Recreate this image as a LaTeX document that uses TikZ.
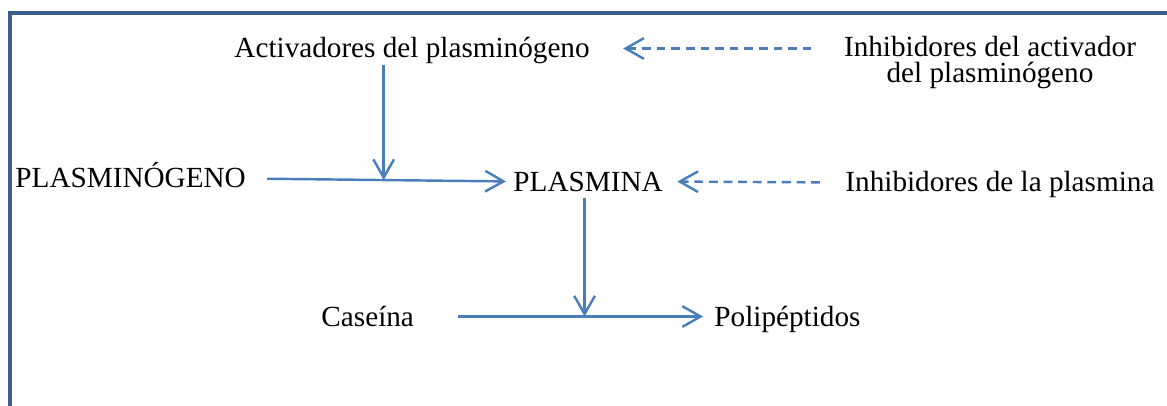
\documentclass[tikz,border=0pt]{standalone}
\usepackage{fontspec}
\setmainfont{Liberation Serif}
\usetikzlibrary{arrows.meta}
\definecolor{myblue}{RGB}{74,126,187}
\definecolor{myframe}{RGB}{61,94,140}
\tikzstyle{arrow} = [line width=1pt,color=myblue,-{Straight Barb[length=7.5pt,width=8.5pt]}]
\tikzstyle{dasharrow} = [arrow,dash pattern=on 3.6pt off 2.4pt]
\tikzstyle{txt} = [anchor=base west,inner xsep=0pt,inner ysep=2.5pt,font=\fontsize{12}{13}\selectfont]
\tikzstyle{onerow} = [txt,text height=7.8pt,text depth=0pt]

\begin{document}
\begin{tikzpicture}[x=0.411pt,y=-0.411pt]
            \useasboundingbox (0,0) rectangle (1167,406);
            % frame
            \draw [color=myframe,line width=1.4pt] (10,406) -- (10,13) -- (1167,13);
            % texts
            \node[onerow] (act) at (234,58) {Activadores del plasminógeno};
            \node[txt,anchor=base,align=center,font=\fontsize{12}{10.9}\selectfont] (inhact) at (990,83) {Inhibidores del activador\\del plasminógeno};
            \node[onerow] (pgeno) at (15,188) {PLASMINÓGENO};
            \node[onerow] (plasmina) at (513,191) {PLASMINA};
            \node[onerow] (inhpl) at (845,192) {Inhibidores de la plasmina};
            \node[onerow] (caseina) at (321,326) {Caseína};
            \node[onerow] (polip) at (714,326) {Polipéptidos};
            % arrows
            \draw [arrow,shorten <=8.6pt,shorten >=2.9pt] (pgeno.east) -- coordinate[pos=0.515] (m1) (plasmina.west);
            \draw [arrow] (act.south -| m1) -- (m1);
            \draw [arrow,shorten <=18pt,shorten >=4.5pt] (caseina.east) -- coordinate[pos=0.568] (m2) (polip.west);
            \draw [arrow] (plasmina.south -| m2) -- (m2);
            %\draw [dasharrow] (inhact.west) -- (act.east);
            \draw [dasharrow,shorten <=13.2pt,shorten >=13.6pt] (inhact.west |- act.east) -- (act.east);
            \draw [dasharrow,shorten <=10.3pt,shorten >=5.8pt] (inhpl.west) -- (plasmina.east);
\end{tikzpicture}
\end{document}
